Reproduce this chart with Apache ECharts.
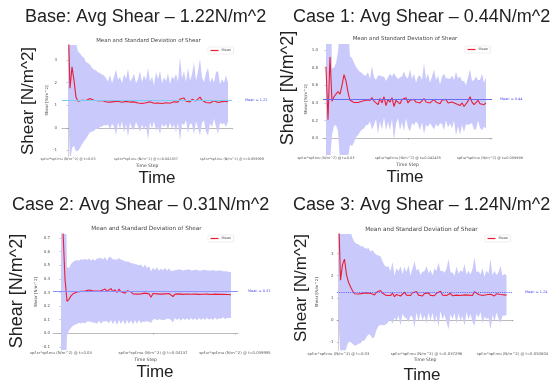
<!DOCTYPE html>
<html><head><meta charset="utf-8">
<script src="https://cdn.jsdelivr.net/npm/echarts@6/dist/echarts.min.js"></script>
<style>html,body{margin:0;padding:0;background:#fff}#c{width:558px;height:382px}</style>
</head><body><div id="c"></div>
<script>
// ---------------- DATA ----------------
const PANEL_TITLES = ['Base: Avg Shear \u2013 1.22N/m^2', 'Case 1: Avg Shear \u2013 0.44N/m^2', 'Case 2: Avg Shear \u2013 0.31N/m^2', 'Case 3: Avg Shear \u2013 1.24N/m^2'];
const SUB_TITLE = 'Mean and Standard Deviation of Shear';
const AVG = [1.22, 0.44, 0.31, 1.24];

const Y_TICKS_1 = [-1, 0, 1, 2, 3];
const Y_TICKS_2 = [0.0, 0.2, 0.4, 0.6, 0.8, 1.0];
const Y_TICKS_3 = [-0.1, 0.0, 0.1, 0.2, 0.3, 0.4, 0.5, 0.6, 0.7];
const Y_TICKS_4 = [-1, 0, 1, 2, 3];

const X_TICK_IDX_1 = [0, 39, 82];
const X_TICK_IDX_2 = [0, 41, 82];
const X_TICK_IDX_3 = [0, 46, 87];
const X_TICK_IDX_4 = [0, 44, 87];
const X_LABELS_1 = ['spf.sr*spf.mu (N/m^2) @ t=0.03', 'spf.sr*spf.mu (N/m^2) @ t=0.042837', 'spf.sr*spf.mu (N/m^2) @ t=0.059999'];
const X_LABELS_2 = ['spf.sr*spf.mu (N/m^2) @ t=0.03', 'spf.sr*spf.mu (N/m^2) @ t=0.042455', 'spf.sr*spf.mu (N/m^2) @ t=0.059999'];
const X_LABELS_3 = ['spf.sr*spf.mu (N/m^2) @ t=0.03', 'spf.sr*spf.mu (N/m^2) @ t=0.04137', 'spf.sr*spf.mu (N/m^2) @ t=0.059995'];
const X_LABELS_4 = ['spf.sr*spf.mu (N/m^2) @ t=0.03', 'spf.sr*spf.mu (N/m^2) @ t=0.037298', 'spf.sr*spf.mu (N/m^2) @ t=0.050804'];

const MEAN_1 = [5.0, 1.75, 2.7, 2.1, 1.35, 1.18,
 1.2, 1.22, 1.25, 1.21, 1.27, 1.3, 1.24, 1.22, 1.25, 1.2, 1.23, 1.21, 1.22,
 1.15, 1.1, 1.14, 1.08, 1.16, 1.12, 1.18, 1.1, 1.13, 1.09, 1.17, 1.11, 1.14, 1.07, 1.15, 1.12, 1.1, 1.16, 1.08, 1.13, 1.11, 1.06, 1.15, 1.12, 1.09, 1.17, 1.1, 1.13, 1.08, 1.14, 1.11, 1.16, 1.09, 1.12, 1.15, 1.1, 1.14,
 1.28, 1.2, 1.32, 1.18, 1.22, 1.15, 1.26, 1.3, 1.19, 1.24, 1.36, 1.22, 1.17, 1.12, 1.16, 1.1, 1.14, 1.2, 1.26, 1.12, 1.08, 1.16, 1.11, 1.18, 1.14];
const STD_1 = [4, 3.3, 3.6, 2.9, 2.4, 2.2, 2.1, 1.95, 1.85, 1.7, 1.6, 1.5, 1.42, 1.35, 1.3, 1.25, 1.2, 1.15, 1.1,
 1.05, 0.95, 1.2, 0.9, 1.1, 1.45, 0.95, 1.15, 0.85, 1.3, 1.0, 1.5, 0.9, 1.1, 1.25, 0.85, 1.05, 1.35, 0.95, 1.2, 1.0, 1.6, 0.9, 1.15, 0.8, 1.3, 1.05, 1.4, 0.9, 1.1, 0.95, 1.25, 0.85, 1.15, 1.0, 1.3, 0.9,
 1.85, 1.0, 1.2, 0.85, 1.45, 0.95, 1.1, 1.6, 0.9, 1.25, 1.7, 1.0, 0.85, 1.3, 1.5, 0.9, 1.1, 0.8, 1.2, 1.4, 0.85, 1.0, 0.9, 1.15, 0.85];

const MEAN_2 = [0.81, 0.21, 0.92, 0.42, 0.47, 0.5, 0.53, 0.5, 0.6, 0.72, 0.65, 0.52, 0.43, 0.41, 0.405, 0.41, 0.405, 0.41, 0.42, 0.41, 0.43,
 0.45, 0.43, 0.46, 0.42, 0.44, 0.38, 0.45, 0.4, 0.47, 0.37, 0.44, 0.41, 0.46, 0.36, 0.43, 0.45, 0.39, 0.44, 0.42, 0.46, 0.4, 0.43,
 0.42, 0.44, 0.41, 0.43, 0.4, 0.42, 0.45, 0.41, 0.43, 0.4, 0.42, 0.44, 0.41, 0.42, 0.39, 0.43, 0.41, 0.44, 0.4, 0.42, 0.41, 0.43,
 0.39, 0.41, 0.37, 0.4, 0.36, 0.38, 0.42, 0.47, 0.41, 0.38, 0.4, 0.43, 0.39, 0.41, 0.38, 0.4];
const STD_2 = [1.1, 1.0, 1.2, 0.38, 0.33, 0.35, 0.45, 0.75, 0.9, 1.0, 0.95, 0.75, 0.5, 0.5, 0.45, 0.4, 0.37, 0.34, 0.32, 0.3, 0.28,
 0.3, 0.24, 0.36, 0.27, 0.22, 0.33, 0.26, 0.3, 0.23, 0.28,
 0.25, 0.32, 0.24, 0.38, 0.27, 0.22, 0.3, 0.26, 0.34, 0.23,
 0.28, 0.35, 0.25, 0.29, 0.22, 0.27, 0.31, 0.24, 0.4, 0.26,
 0.3, 0.23, 0.28, 0.34, 0.25, 0.29, 0.22, 0.27, 0.32, 0.24,
 0.28, 0.25, 0.3, 0.23, 0.36, 0.27, 0.33, 0.25, 0.29, 0.22,
 0.27, 0.31, 0.24, 0.28, 0.3, 0.23, 0.27, 0.32, 0.25, 0.29];

const MEAN_3 = [1.2, 0.75, 0.4, 0.235, 0.25, 0.275, 0.29, 0.298, 0.303, 0.306, 0.308, 0.31, 0.31, 0.312, 0.318, 0.31, 0.312, 0.305, 0.31, 0.322, 0.312,
 0.315, 0.325, 0.31, 0.318, 0.328, 0.305, 0.32, 0.3, 0.325, 0.305, 0.318, 0.295, 0.312, 0.298, 0.305, 0.29, 0.302, 0.288, 0.298, 0.29,
 0.285, 0.295, 0.283, 0.29, 0.265, 0.292, 0.285, 0.29, 0.282, 0.288, 0.28, 0.29, 0.284, 0.292, 0.278, 0.27, 0.288, 0.282, 0.29, 0.28,
 0.286, 0.281, 0.289, 0.283, 0.287, 0.28, 0.288, 0.282, 0.286, 0.279, 0.287, 0.283, 0.288, 0.28, 0.285, 0.282, 0.288, 0.279, 0.286, 0.283,
 0.287, 0.281, 0.285, 0.28, 0.283];
const STD_3 = [1.5, 1.2, 0.9, 0.25, 0.23, 0.235, 0.235, 0.235,
 0.235, 0.228, 0.236, 0.23, 0.238, 0.226, 0.232, 0.225, 0.235, 0.228, 0.24, 0.23, 0.242, 0.228, 0.236, 0.222, 0.245, 0.23, 0.238, 0.225, 0.24, 0.228, 0.236,
 0.22, 0.232, 0.215, 0.228, 0.21, 0.225, 0.205, 0.218, 0.2, 0.215, 0.198, 0.21, 0.195, 0.205, 0.19,
 0.19, 0.18, 0.195, 0.178, 0.188, 0.182, 0.192, 0.176, 0.186, 0.18, 0.19, 0.175, 0.185, 0.18, 0.188, 0.176, 0.184, 0.179, 0.187, 0.175,
 0.183, 0.178, 0.186, 0.174, 0.182, 0.177, 0.185, 0.173, 0.181, 0.176, 0.184, 0.172, 0.18, 0.175, 0.178, 0.17, 0.176, 0.172, 0.168, 0.17];

const MEAN_4 = [5.0, 1.8, 2.5, 2.75, 2.05, 1.7, 1.5, 1.32, 1.18, 1.15, 1.17, 1.14, 1.2, 1.16, 1.22, 1.3, 1.2, 1.15, 1.13, 1.25, 1.32, 1.33, 1.2, 1.12, 1.1,
 1.18, 1.1, 1.22, 1.05, 1.15, 1.2, 1.08, 1.17, 1.25, 1.12,
 1.19, 1.1, 1.23, 1.15, 1.28, 1.12, 1.18, 1.08, 1.2, 1.14,
 1.22, 1.11, 1.17, 1.09, 1.21, 1.15, 1.3, 1.12, 1.18, 1.1,
 1.16, 1.2, 1.09, 1.15, 1.12, 1.19, 1.1, 1.17, 1.13, 1.21,
 1.12, 1.16, 1.1, 1.28, 1.22, 1.15, 1.2, 1.1, 1.05, 1.14,
 1.09, 1.16, 1.12, 1.08, 1.18, 1.11, 1.15, 1.1, 1.13, 1.12];
const STD_4 = [5, 3.5, 4.0, 4.3, 3.3, 2.7, 2.5, 2.4, 2.35, 2.3, 2.25, 2.2, 2.15, 2.1, 2.0, 1.95, 1.9, 2.0, 1.9, 1.7, 1.6, 1.55, 1.45, 1.35, 1.3,
 1.25, 1.1, 1.4, 0.95, 1.2, 1.0, 1.35, 0.9, 1.15, 1.05,
 1.3, 0.9, 1.1, 1.5, 0.95, 1.2, 0.85, 1.1, 1.0, 1.3,
 0.9, 1.15, 0.85, 1.25, 1.0, 1.45, 0.9, 1.1, 0.95, 1.2,
 1.6, 0.95, 1.05, 0.85, 1.3, 0.9, 1.15, 1.0, 1.4, 0.85,
 1.1, 0.9, 1.2, 1.55, 0.95, 1.05, 0.85, 1.25, 0.9, 1.1,
 1.0, 1.6, 0.9, 1.15, 0.85, 1.05, 1.3, 0.9, 0.95, 0.9];

// ---------------- LAYOUT ----------------
const panels = [
  {mean: MEAN_1, std: STD_1, yTicks: Y_TICKS_1, yDec: 0, xIdx: X_TICK_IDX_1, xLab: X_LABELS_1,
   grid: {left: 62, top: 45, width: 170, height: 111}, xMin: -3, xMax: 82, yMin: -1.25, yMax: 3.67,
   hdr: [25, 8], sub: [148.5, 38, 5.4], bigY: [28, 101, 17], bigT: [157, 178], leg: [208, 47],
   avgColor: '#7ccbf0', avgType: 'solid', labDist: 13, labPad: 16, tickFont: 3.4, yLabMargin: 5, yNameGap: 12},
  {mean: MEAN_2, std: STD_2, yTicks: Y_TICKS_2, yDec: 1, xIdx: X_TICK_IDX_2, xLab: X_LABELS_2,
   grid: {left: 323, top: 44, width: 169, height: 111}, xMin: -1.5, xMax: 83, yMin: -0.19, yMax: 1.068,
   hdr: [293, 8], sub: [405, 36.5, 5.4], bigY: [288, 88, 18], bigT: [405, 177], leg: [465, 46],
   avgColor: '#6a6af2', avgType: 'solid', labDist: 8, labPad: 0, tickFont: 3.5, yLabMargin: 5, yNameGap: 15},
  {mean: MEAN_3, std: STD_3, yTicks: Y_TICKS_3, yDec: 1, xIdx: X_TICK_IDX_3, xLab: X_LABELS_3,
   grid: {left: 53, top: 234, width: 185, height: 116}, xMin: -4, xMax: 88.5, yMin: -0.123, yMax: 0.73,
   hdr: [12, 196], sub: [146.5, 225.5, 5.7], bigY: [17, 291, 18], bigT: [155, 372], leg: [208, 235],
   avgColor: '#8e90ff', avgType: 'solid', labDist: 10, labPad: 0, tickFont: 3.8, yLabMargin: 3, yNameGap: 15},
  {mean: MEAN_4, std: STD_4, yTicks: Y_TICKS_4, yDec: 0, xIdx: X_TICK_IDX_4, xLab: X_LABELS_4,
   grid: {left: 337, top: 234, width: 176, height: 116.5}, xMin: -0.75, xMax: 87.25, yMin: -1.39, yMax: 3.89,
   hdr: [293, 196], sub: [421.5, 226, 5.8], bigY: [301, 288, 17], bigT: [422, 375], leg: [485, 235],
   avgColor: '#6464ff', avgType: 'dotted', labDist: 12, labPad: 0, tickFont: 3.8, yLabMargin: 3.5, yNameGap: 18}
];

const RED = '#ea1f35';
const BAND = '#c9c9fb';
const option = {
  animation: false,
  backgroundColor: '#fff',
  title: [], grid: [], xAxis: [], yAxis: [], series: [], legend: [], graphic: []
};

panels.forEach((p, k) => {
  option.title.push({text: PANEL_TITLES[k], left: p.hdr[0], top: p.hdr[1], padding: 0,
    textStyle: {fontFamily: 'Liberation Sans', fontSize: 18, fontWeight: 'normal', color: '#222'}});
  option.title.push({text: SUB_TITLE, left: p.sub[0], top: p.sub[1], padding: 0, textAlign: 'center',
    textStyle: {fontFamily: 'DejaVu Sans', fontSize: p.sub[2], fontWeight: 'normal', color: '#444'}});
  option.grid.push(Object.assign({containLabel: false}, p.grid));
  const labelMap = {};
  p.xIdx.forEach((v, j) => { labelMap[v] = p.xLab[j]; });
  option.xAxis.push({
    type: 'value', gridIndex: k, min: p.xMin, max: p.xMax,
    name: 'Time Step', nameLocation: 'middle', nameGap: 7,
    nameTextStyle: {fontFamily: 'DejaVu Sans', fontSize: 4.5, color: '#444'},
    axisLine: {show: true, lineStyle: {color: '#aaa', width: 0.8}},
    axisTick: {show: true, length: 1.5, customValues: p.xIdx, lineStyle: {color: '#888', width: 0.5}},
    axisLabel: {show: true, customValues: p.xIdx, margin: 1.5, fontFamily: 'DejaVu Sans', fontSize: p.tickFont, color: '#555',
      formatter: v => labelMap[v] || ''},
    splitLine: {show: false}
  });
  option.yAxis.push({
    type: 'value', gridIndex: k, min: p.yMin, max: p.yMax,
    name: 'Shear [N/m^2]', nameLocation: 'middle', nameGap: p.yNameGap,
    nameTextStyle: {fontFamily: 'DejaVu Sans', fontSize: 4, color: '#444'},
    axisLine: {show: true, lineStyle: {color: '#c4c4c4', width: 0.8}},
    axisTick: {show: true, length: 1.5, customValues: p.yTicks, lineStyle: {color: '#888', width: 0.5}},
    axisLabel: {show: true, customValues: p.yTicks, margin: p.yLabMargin, fontFamily: 'DejaVu Sans', fontSize: 4, color: '#555',
      formatter: v => (Math.abs(v) < 1e-9 ? 0 : v).toFixed(p.yDec)},
    splitLine: {show: false}
  });
  // band rows: [index, lower, upper]
  const bandRows = p.mean.map((m, i) => [i, m - p.std[i], m + p.std[i]]);
  const meanPts = p.mean.map((m, i) => [i, m]);
  option.series.push({
    type: 'custom', name: 'band' + k, xAxisIndex: k, yAxisIndex: k, data: bandRows,
    encode: {x: 0, y: [1, 2]}, silent: true, z: 1, clip: true,
    renderItem: (params, api) => {
      if (params.dataIndex !== 0) return null;
      const up = [], lo = [];
      for (let i = 0; i < bandRows.length; i++) {
        up.push(api.coord([bandRows[i][0], bandRows[i][2]]));
        lo.push(api.coord([bandRows[i][0], bandRows[i][1]]));
      }
      const pts = up.concat(lo.reverse());
      const cs = params.coordSys;
      return {
        type: 'group',
        clipPath: {type: 'rect', shape: {x: cs.x, y: cs.y, width: cs.width, height: cs.height}},
        children: [{type: 'polygon', shape: {points: pts}, style: {fill: BAND, stroke: null}}]
      };
    }
  });
  option.series.push({
    type: 'line', name: 'Mean', xAxisIndex: k, yAxisIndex: k, data: meanPts,
    symbol: 'none', lineStyle: {color: RED, width: 1.1}, itemStyle: {color: RED}, z: 3,
    markLine: {
      symbol: 'none', silent: true, animation: false,
      lineStyle: {color: p.avgColor, width: 1.1, type: p.avgType},
      label: {show: true, position: 'end', distance: p.labDist, formatter: 'Mean = ' + AVG[k].toFixed(2),
        fontFamily: 'DejaVu Sans', fontSize: 3.5, color: '#4b4bf0', padding: [p.labPad, 0, 0, 0]},
      data: [{yAxis: AVG[k]}]
    }
  });
  option.legend.push({
    data: [{name: 'Mean', icon: 'rect'}], left: p.leg[0], top: p.leg[1], orient: 'vertical',
    itemWidth: 8, itemHeight: 1.2, itemGap: 2, padding: [1.5, 2.5], selectedMode: false,
    borderColor: '#ddd', borderWidth: 0.5, borderRadius: 1, backgroundColor: '#fff',
    textStyle: {fontFamily: 'DejaVu Sans', fontSize: 3.5, color: '#555', padding: [0, 0, 0, -2]}
  });
  option.graphic.push({type: 'text', x: p.bigY[0], y: p.bigY[1], rotation: Math.PI / 2, silent: true,
    style: {text: 'Shear [N/m^2]', fontFamily: 'Liberation Sans', fontSize: p.bigY[2], fill: '#222', align: 'center', verticalAlign: 'middle'}});
  option.graphic.push({type: 'text', x: p.bigT[0], y: p.bigT[1], silent: true,
    style: {text: 'Time', fontFamily: 'Liberation Sans', fontSize: 17, fill: '#222', align: 'center', verticalAlign: 'middle'}});
});

const chart = echarts.init(document.getElementById('c'), null, {renderer: 'canvas'});
chart.setOption(option);
</script>
</body></html>
